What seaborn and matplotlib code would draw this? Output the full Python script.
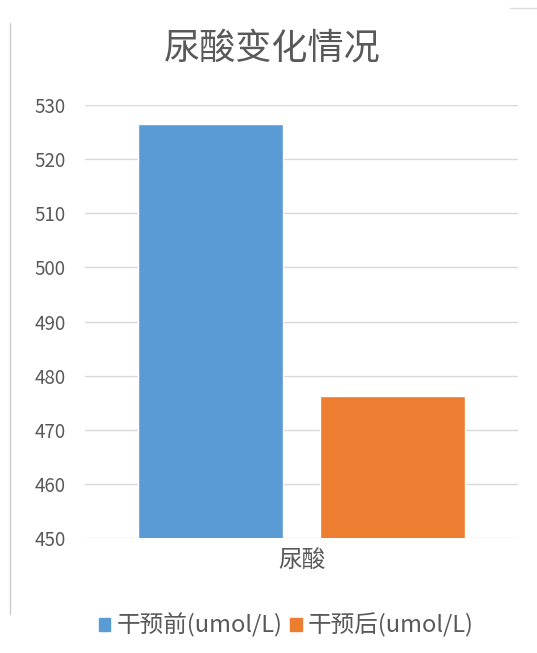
import matplotlib
matplotlib.use("Agg")
import matplotlib.pyplot as plt
import seaborn as sns
import pandas as pd
from matplotlib.lines import Line2D
from matplotlib.patches import Rectangle

categories = ["尿酸"]
series = ["干预前(umol/L)", "干预后(umol/L)"]
values_before = [526.5]
values_after = [476.3]
colors = ["#5B9BD5", "#ED7D31"]
yticks = [450, 460, 470, 480, 490, 500, 510, 520, 530]

sns.set_theme(style="white")
plt.rcParams['font.family'] = ['Noto Sans CJK SC', 'DejaVu Sans']

df = pd.DataFrame({
    "cat": categories * 2,
    "series": [series[0]] * len(categories) + [series[1]] * len(categories),
    "value": values_before + values_after,
})

fig = plt.figure(figsize=(5.37, 6.53), dpi=100)
ax = fig.add_axes([0.158, 0.176, 0.807, 0.663])

sns.barplot(data=df, x="cat", y="value", hue="series", palette=colors,
            width=0.84, gap=0.2, ax=ax, legend=False, saturation=1)

ax.set_ylim(450, 530)
ax.set_yticks(yticks)
ax.set_yticklabels([str(t) for t in yticks], fontsize=13.5, color="#595959")
ax.tick_params(axis="x", labelsize=17, colors="#595959", length=0, pad=8)
ax.tick_params(axis="y", length=0, pad=14)
ax.set_xlabel("")
ax.set_ylabel("")
ax.grid(axis="y", color="#d9d9d9", linewidth=1)
ax.set_axisbelow(True)
for s in ax.spines.values():
    s.set_visible(False)

fig.text(0.507, 0.926, "尿酸变化情况", fontsize=26, color="#595959",
         ha="center", va="center")

handles = [Rectangle((0, 0), 1, 1, color=c) for c in colors]
fig.legend(handles, series, loc="center", bbox_to_anchor=(0.533, 0.042),
           ncol=2, frameon=False, fontsize=17, handlelength=0.5,
           handleheight=0.5, handletextpad=0.25, columnspacing=0.35,
           labelcolor="#595959")

fig.add_artist(Line2D([0.019, 0.019], [0.06, 0.965], color="#cccccc", lw=1))
fig.add_artist(Line2D([0.95, 1.0], [0.988, 0.988], color="#dddddd", lw=1))

fig.savefig("out.png", dpi=100)
